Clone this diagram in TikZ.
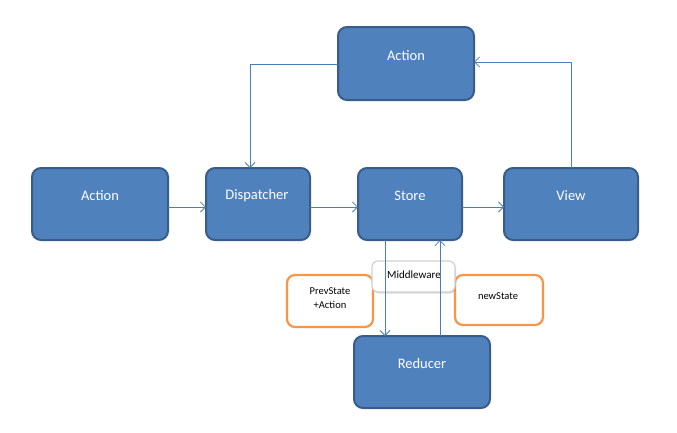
\documentclass[tikz,border=0pt]{standalone}
\usepackage{fontspec}
\setmainfont{Carlito}
\usetikzlibrary{arrows.meta,shadows}
\definecolor{bfill}{HTML}{4F81BD}
\definecolor{bdraw}{HTML}{385D8A}
\definecolor{oline}{HTML}{F79646}
\definecolor{lline}{HTML}{4A7EBB}
\begin{document}
\begin{tikzpicture}[x=1pt,y=-1pt,
  bluebox/.style={draw=bdraw,line width=2pt,fill=bfill,rounded corners=9pt},
  bluetext/.style={text=white,font=\fontsize{14.5}{16}\selectfont},
  orangebox/.style={draw=oline,line width=2.2pt,fill=white,rounded corners=8pt},
  smalltext/.style={font=\fontsize{10.5}{12.5}\selectfont,align=center},
  midbox/.style={draw=black!18,line width=1.2pt,fill=white,rounded corners=6pt,drop shadow={opacity=0.3,shadow xshift=1pt,shadow yshift=-1.5pt}},
  conn/.style={draw=lline,line width=0.8pt,-{Straight Barb[length=5pt,width=10pt,line width=0.8pt]}}]
\useasboundingbox (0,0) rectangle (677,432);
% blue boxes
\path[bluebox] (338,27) rectangle (474,100);
\node[bluetext] (topaction) at (406,56) {Action};
\coordinate (topL) at (338,64);
\coordinate (topR) at (474,62);
\path[bluebox] (32,168) rectangle (168,240);
\node[bluetext] (action) at (100,196) {Action};
\path[bluebox] (206,168) rectangle (310,240);
\node[bluetext] (disp) at (257,196) {Dispatcher};
\path[bluebox] (358,168) rectangle (462,240);
\node[bluetext] (store) at (410,196) {Store};
\path[bluebox] (504,168) rectangle (638,240);
\node[bluetext] (view) at (571,196) {View};
\path[bluebox] (354,336) rectangle (490,408);
\node[bluetext] (reducer) at (422,364) {Reducer};
% orange boxes
\path[orangebox] (287,275) rectangle (373,327);
\node[smalltext] (prev) at (330,298) {PrevState\\[1pt]+Action};
\path[orangebox] (455,275) rectangle (543,325);
\node[smalltext] (new) at (498,296) {newState};
% middleware
\path[midbox] (372,261) rectangle (455,292);
\node[smalltext,font=\fontsize{11}{13}\selectfont] (mid) at (414,275) {Middleware};
% coordinates
\coordinate (a1) at (168,207); \coordinate (d1) at (206,207);
\coordinate (d2) at (310,207); \coordinate (s1) at (358,207);
\coordinate (s2) at (462,207); \coordinate (v1) at (504,207);
\coordinate (vt) at (571,168);
\coordinate (dt) at (250,168);
\coordinate (sb1) at (385,240); \coordinate (rt1) at (385,336);
\coordinate (sb2) at (440,240); \coordinate (rt2) at (440,336);
% connectors
\draw[conn] (a1) -- (d1);
\draw[conn] (d2) -- (s1);
\draw[conn] (s2) -- (v1);
\draw[conn] (vt) |- (topR);
\draw[conn] (topL) -| (dt);
\draw[conn] (sb1) -- (rt1);
\draw[conn] (rt2) -- (sb2);
\end{tikzpicture}
\end{document}
